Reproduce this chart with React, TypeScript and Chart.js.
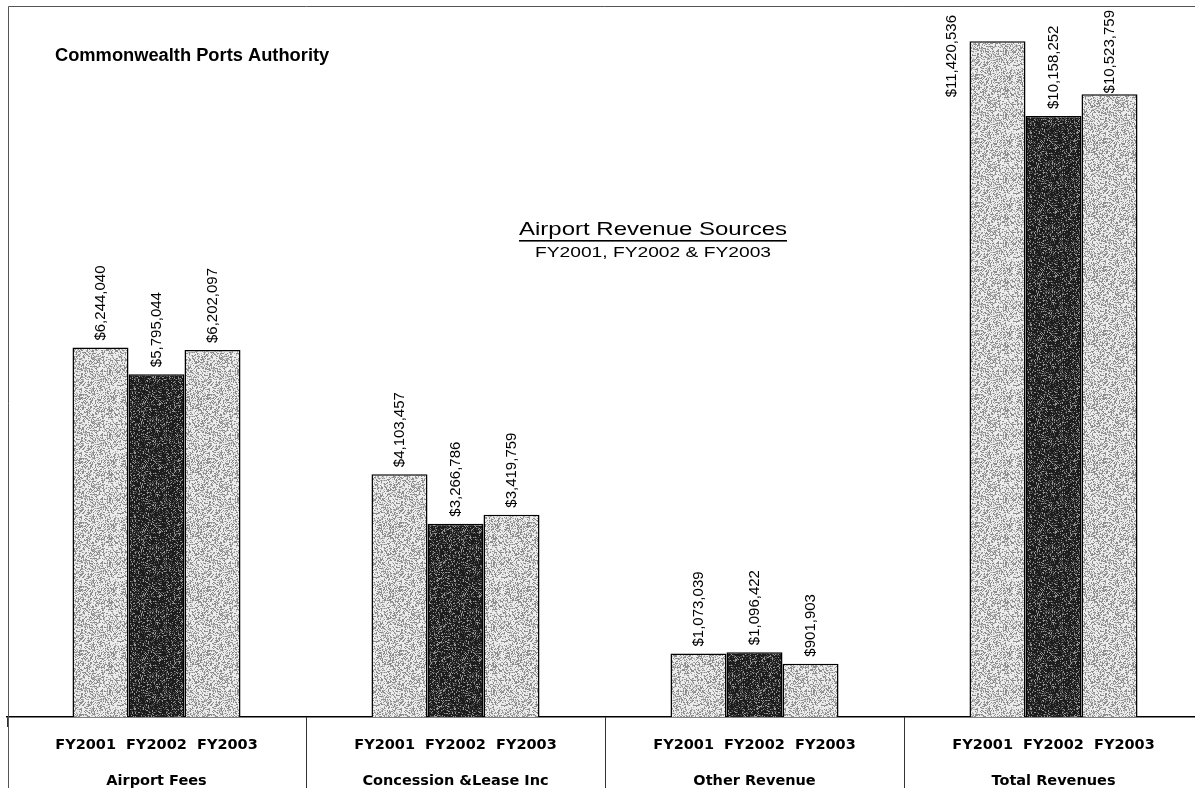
import React, { useEffect, useRef } from "react";
import { Chart, registerables } from "chart.js";

Chart.register(...registerables);

const groupNames = ["Airport Fees", "Concession &Lease Inc", "Other Revenue", "Total Revenues"];
const yearTickLabel = "FY2001  FY2002  FY2003";
const seriesNames = ["FY2001", "FY2002", "FY2003"];
const fy2001 = [6244040, 4103457, 1073039, 11420536];
const fy2002 = [5795044, 3266786, 1096422, 10158252];
const fy2003 = [6202097, 3419759, 901903, 10523759];

const FONT = "'Liberation Sans', Arial, Helvetica, sans-serif";
const WIDE = "'DejaVu Sans', 'Liberation Sans', Arial, sans-serif";

function hash(x: number, y: number, s: number) {
  let n = Math.imul(x, 374761393) + Math.imul(y, 668265263) + Math.imul(s, 1442695041);
  n = Math.imul(n ^ (n >>> 13), 1274126177);
  n = n ^ (n >>> 16);
  return (n >>> 0) / 4294967296;
}

function makePattern(ctx: CanvasRenderingContext2D, dark: boolean) {
  const c = document.createElement("canvas");
  c.width = 64;
  c.height = 64;
  const p = c.getContext("2d")!;
  const img = p.createImageData(64, 64);
  for (let y = 0; y < 64; y++) {
    for (let x = 0; x < 64; x++) {
      const h = hash(x, y, dark ? 7 : 3);
      let v: number;
      if (dark) v = h < 0.14 ? 150 : h < 0.34 ? 80 : 28;
      else v = h < 0.3 ? 140 : h < 0.47 ? 182 : 236;
      const i = (y * 64 + x) * 4;
      img.data[i] = v;
      img.data[i + 1] = v;
      img.data[i + 2] = v;
      img.data[i + 3] = 255;
    }
  }
  p.putImageData(img, 0, 0);
  return ctx.createPattern(c, "repeat") as CanvasPattern;
}

function fmt(v: number) {
  return "$" + v.toLocaleString("en-US");
}

function stretchedText(ctx: CanvasRenderingContext2D, text: string, cx: number, cy: number, targetW: number) {
  const w = ctx.measureText(text).width;
  const s = targetW / w;
  ctx.save();
  ctx.translate(cx, cy);
  ctx.scale(s, 1);
  ctx.textAlign = "center";
  ctx.fillText(text, 0, 0);
  ctx.restore();
  return targetW;
}

const decorPlugin = {
  id: "decor",
  afterDraw(chart: any) {
    const ctx = chart.ctx as CanvasRenderingContext2D;
    const ca = chart.chartArea;
    const xs = chart.scales.x;
    ctx.save();
    // frame
    ctx.strokeStyle = "#555";
    ctx.lineWidth = 1;
    ctx.beginPath();
    ctx.moveTo(8.5, 800);
    ctx.lineTo(8.5, 6.5);
    ctx.lineTo(1200, 6.5);
    ctx.stroke();

    // category dividers below the axis
    ctx.strokeStyle = "#333";
    ctx.beginPath();
    for (let i = 1; i < groupNames.length; i++) {
      const x = Math.round(xs.getPixelForValue(i - 0.5)) + 0.5;
      ctx.moveTo(x, ca.bottom);
      ctx.lineTo(x, chart.height);
    }
    ctx.stroke();

    // titles
    ctx.fillStyle = "#000";
    ctx.textBaseline = "middle";
    ctx.textAlign = "left";
    ctx.font = `bold 18.3px ${FONT}`;
    ctx.fillText("Commonwealth Ports Authority", 55, 56);

    const tx = 653;
    ctx.font = `18.5px ${FONT}`;
    const tw = stretchedText(ctx, "Airport Revenue Sources", tx, 230, 268);
    ctx.fillRect(tx - tw / 2, 240, tw, 1.6);
    ctx.font = `14px ${FONT}`;
    stretchedText(ctx, "FY2001, FY2002 & FY2003", tx, 253, 236);

    // data labels
    ctx.font = `15px ${FONT}`;
    chart.data.datasets.forEach((ds: any, di: number) => {
      const meta = chart.getDatasetMeta(di);
      meta.data.forEach((bar: any, i: number) => {
        const txt = fmt(ds.data[i]);
        const len = ctx.measureText(txt).width;
        let bottom = bar.y - 7;
        let top = bottom - len;
        let x = bar.x;
        const minTop = ca.top + 3;
        if (top < minTop) {
          const shift = minTop - top;
          if (shift > len / 2) {
            x = bar.x - bar.width / 2 - 18;
            top = minTop + 5;
          } else {
            top = minTop;
          }
          bottom = top + len;
        }
        ctx.save();
        ctx.translate(x, bottom);
        ctx.rotate(-Math.PI / 2);
        ctx.textAlign = "left";
        ctx.textBaseline = "middle";
        ctx.fillStyle = "#000";
        ctx.fillText(txt, 0, 0);
        ctx.restore();
      });
    });
    ctx.restore();
  },
};

export default function App() {
  const ref = useRef<HTMLCanvasElement | null>(null);
  useEffect(() => {
    document.body.style.overflow = "hidden";
    const canvas = ref.current!;
    const ctx = canvas.getContext("2d")!;
    const light = makePattern(ctx, false);
    const dark = makePattern(ctx, true);
    const fills = [light, dark, light];
    const chart = new Chart(canvas, {
      type: "bar",
      data: {
        labels: groupNames.map((g) => [yearTickLabel, g]),
        datasets: [fy2001, fy2002, fy2003].map((d, i) => ({
          label: seriesNames[i],
          data: d,
          backgroundColor: fills[i],
          borderColor: "#000",
          borderWidth: 1.5,
          categoryPercentage: 0.562,
          barPercentage: 1,
        })),
      },
      options: {
        responsive: false,
        devicePixelRatio: 1,
        animation: false,
        layout: { padding: { left: 7, right: 7, top: 7, bottom: 0 } },
        plugins: {
          legend: { display: false },
          tooltip: { enabled: false },
          title: { display: false },
        },
        scales: {
          x: {
            offset: true,
            grid: {
              offset: true,
              drawOnChartArea: false,
              drawTicks: true,
              tickLength: 10,
              color: "#333",
              lineWidth: 1,
            },
            border: { display: true, color: "#000", width: 1.5 },
            ticks: {
              padding: 0,
              color: "#000",
              maxRotation: 0,
              autoSkip: false,
              font: { family: WIDE, size: 14.5, weight: "bold", lineHeight: 36 / 14.5 },
            },
          },
          y: {
            display: false,
            min: 0,
            max: 12000000,
          },
        },
      },
      plugins: [decorPlugin],
    });
    return () => chart.destroy();
  }, []);
  return (
    <div style={{ position: "fixed", left: 0, top: 0, width: 1210, height: 799, overflow: "hidden", background: "#fff" }}>
      <canvas ref={ref} width={1210} height={799} style={{ display: "block" }} />
    </div>
  );
}
